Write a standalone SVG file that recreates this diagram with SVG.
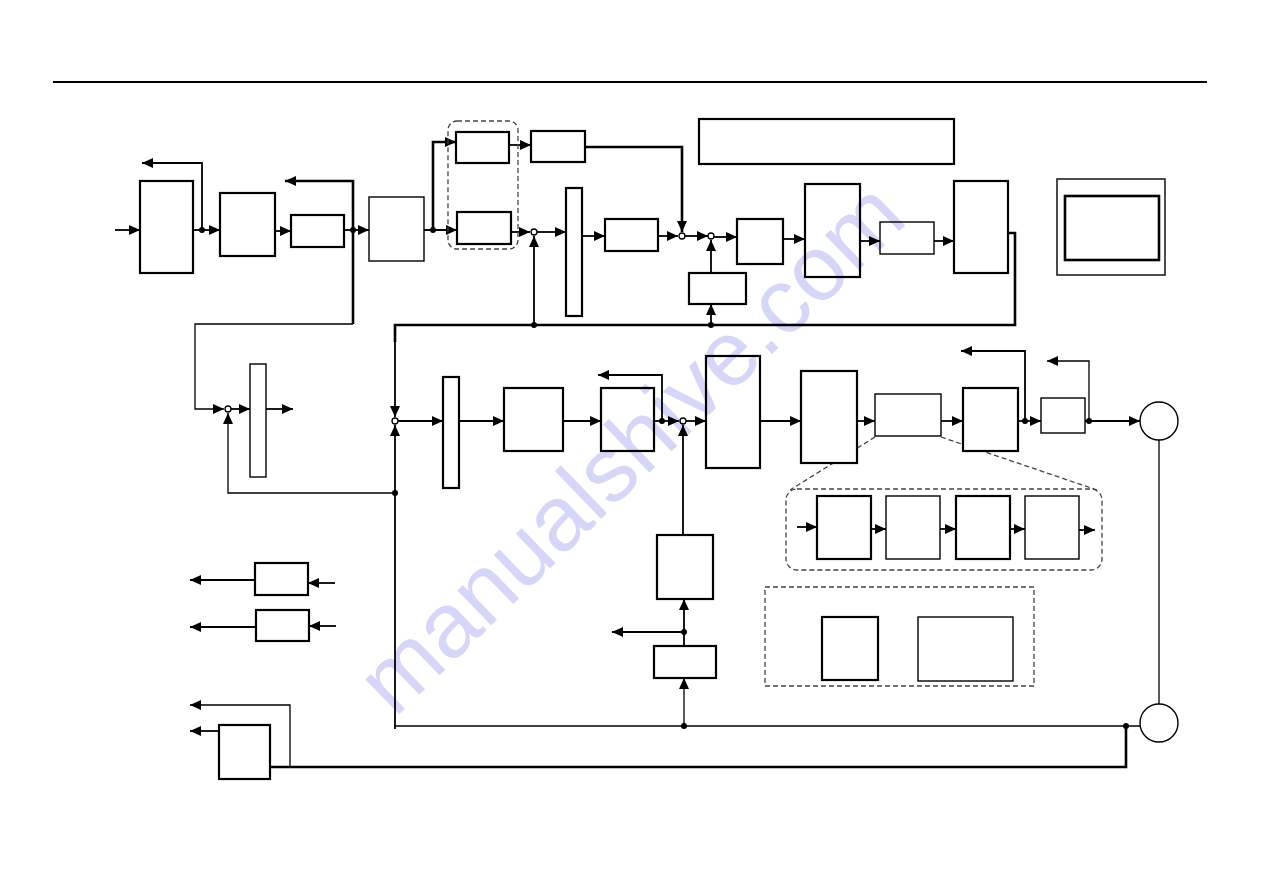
<svg xmlns="http://www.w3.org/2000/svg" width="1263" height="893" viewBox="0 0 1263 893">
<style>
.b{fill:#fff;stroke:#000;stroke-width:2.2}
.t{fill:#fff;stroke:#000;stroke-width:1.4}
.c{fill:none;stroke:#000;stroke-width:1.8}
.k{fill:none;stroke:#000;stroke-width:2.6}
.n{fill:none;stroke:#000;stroke-width:1.3}
.d{fill:none;stroke:#444;stroke-width:1.3;stroke-dasharray:5 3}
.j{fill:#fff;stroke:#000;stroke-width:1.3}
.dot{fill:#000}
.wm{font-family:"Liberation Sans",Arial,sans-serif;font-size:92px;fill:#d6d6f8;mix-blend-mode:multiply}
</style>
<defs>
<marker id="a" viewBox="0 0 11 10" refX="11" refY="5" markerWidth="11" markerHeight="10" markerUnits="userSpaceOnUse" orient="auto">
<path d="M0,0 L11,5 L0,10 z" fill="#000"/>
</marker>
</defs>
<rect width="1263" height="893" fill="#fff"/>
<path d="M53,82 H1207" stroke="#000" stroke-width="2"/>

<g id="connectors">
<path class="d" d="M875,437 L790,490"/>
<path class="d" d="M941,437 L1097,490"/>
<path class="c" d="M115,230 H140" marker-end="url(#a)"/>
<path class="c" d="M192,230 H220" marker-end="url(#a)"/>
<path class="c" d="M202,230 V163 H142" marker-end="url(#a)"/>
<path class="c" d="M275,231 H291" marker-end="url(#a)"/>
<path class="c" d="M344,230 H369" marker-end="url(#a)"/>
<path class="k" d="M353,230 V181 H285" marker-end="url(#a)"/>
<path class="k" d="M353,230 V324"/>
<path class="n" d="M353,324 H195 V409 H224" marker-end="url(#a)"/>
<path class="c" d="M424,230 H457" marker-end="url(#a)"/>
<path class="k" d="M433,230 V142 H456" marker-end="url(#a)"/>
<path class="c" d="M509,145 H531" marker-end="url(#a)"/>
<path class="c" d="M511,232 H530" marker-end="url(#a)"/>
<path class="c" d="M534,325 V236" marker-end="url(#a)"/>
<path class="c" d="M537,232 H566" marker-end="url(#a)"/>
<path class="c" d="M582,236 H605" marker-end="url(#a)"/>
<path class="c" d="M658,236 H678" marker-end="url(#a)"/>
<path class="k" d="M585,147 H682 V232" marker-end="url(#a)"/>
<path class="c" d="M685,236 H708" marker-end="url(#a)"/>
<path class="c" d="M711,273 V240" marker-end="url(#a)"/>
<path class="c" d="M711,325 V304" marker-end="url(#a)"/>
<path class="c" d="M714,237 H737" marker-end="url(#a)"/>
<path class="c" d="M783,239 H805" marker-end="url(#a)"/>
<path class="c" d="M860,241 H880" marker-end="url(#a)"/>
<path class="c" d="M934,241 H954" marker-end="url(#a)"/>
<path class="k" d="M1008,233 H1015 V325 H395 V342"/>
<path class="c" d="M395,340 V417" marker-end="url(#a)"/>
<path class="c" d="M231,409 H250" marker-end="url(#a)"/>
<path class="c" d="M266,409 H293" marker-end="url(#a)"/>
<path class="n" d="M395,493 H228 V413" marker-end="url(#a)"/>
<path class="c" d="M395,729 V425" marker-end="url(#a)"/>
<path class="c" d="M398,421 H443" marker-end="url(#a)"/>
<path class="c" d="M459,421 H504" marker-end="url(#a)"/>
<path class="c" d="M563,421 H601" marker-end="url(#a)"/>
<path class="c" d="M654,421 H679" marker-end="url(#a)"/>
<path class="c" d="M662,421 V375 H598" marker-end="url(#a)"/>
<path class="c" d="M686,421 H706" marker-end="url(#a)"/>
<path class="c" d="M683,535 V425" marker-end="url(#a)"/>
<path class="c" d="M684,646 V599" marker-end="url(#a)"/>
<path class="c" d="M684,632 H612" marker-end="url(#a)"/>
<path class="n" d="M684,726 V678" marker-end="url(#a)"/>
<path class="c" d="M760,421 H801" marker-end="url(#a)"/>
<path class="c" d="M857,421 H875" marker-end="url(#a)"/>
<path class="c" d="M941,421 H963" marker-end="url(#a)"/>
<path class="c" d="M1018,421 H1041" marker-end="url(#a)"/>
<path class="c" d="M1025,421 V351 H961" marker-end="url(#a)"/>
<path class="c" d="M1085,421 H1140" marker-end="url(#a)"/>
<path class="n" d="M1089,421 V361 H1047" marker-end="url(#a)"/>
<path class="n" d="M1159,440 V704"/>
<path class="n" d="M395,726 H1140"/>
<path class="k" d="M1126,726 V767 H270"/>
<path class="n" d="M290,767 V705 H190" marker-end="url(#a)"/>
<path class="c" d="M219,731 H190" marker-end="url(#a)"/>
<path class="c" d="M335,583 H308" marker-end="url(#a)"/>
<path class="c" d="M255,580 H190" marker-end="url(#a)"/>
<path class="c" d="M336,626 H309" marker-end="url(#a)"/>
<path class="c" d="M256,627 H190" marker-end="url(#a)"/>
<path class="c" d="M797,527 H817" marker-end="url(#a)"/>
<path class="c" d="M871,529 H886" marker-end="url(#a)"/>
<path class="c" d="M940,529 H956" marker-end="url(#a)"/>
<path class="c" d="M1010,529 H1025" marker-end="url(#a)"/>
<path class="c" d="M1079,530 H1095" marker-end="url(#a)"/>
<circle class="dot" cx="202" cy="230" r="3"/>
<circle class="dot" cx="353" cy="230" r="3"/>
<circle class="dot" cx="433" cy="230" r="3"/>
<circle class="dot" cx="534" cy="325" r="3"/>
<circle class="dot" cx="711" cy="325" r="3"/>
<circle class="dot" cx="395" cy="493" r="3"/>
<circle class="dot" cx="662" cy="421" r="3"/>
<circle class="dot" cx="684" cy="632" r="3"/>
<circle class="dot" cx="684" cy="726" r="3"/>
<circle class="dot" cx="1025" cy="421" r="3"/>
<circle class="dot" cx="1089" cy="421" r="3"/>
<circle class="dot" cx="1126" cy="726" r="3"/>
<circle class="j" cx="534" cy="232" r="3"/>
<circle class="j" cx="682" cy="236" r="3"/>
<circle class="j" cx="711" cy="236" r="3"/>
<circle class="j" cx="228" cy="409" r="3"/>
<circle class="j" cx="395" cy="421" r="3"/>
<circle class="j" cx="683" cy="421" r="3"/>
</g>

<g id="grp-dash1"><rect class="d" x="448" y="121" width="70" height="128" rx="9"/></g>
<g id="grp-dash2"><rect class="d" x="786" y="489" width="316" height="81" rx="11"/></g>
<g id="grp-dash3"><rect class="d" x="765" y="587" width="269" height="99"/></g>

<g id="nA"><rect class="b" x="140" y="181" width="53" height="92"/></g>
<g id="nB"><rect class="b" x="220" y="193" width="55" height="63"/></g>
<g id="nC"><rect class="b" x="291" y="215" width="53" height="32"/></g>
<g id="nD"><rect class="t" x="369" y="197" width="55" height="64"/></g>
<g id="nE1"><rect class="b" x="456" y="132" width="53" height="31"/></g>
<g id="nE2"><rect class="b" x="457" y="212" width="54" height="32"/></g>
<g id="nF"><rect class="b" x="531" y="131" width="54" height="31"/></g>
<g id="nG"><rect class="b" x="566" y="188" width="16" height="128"/></g>
<g id="nH"><rect class="b" x="605" y="219" width="53" height="32"/></g>
<g id="nI"><rect class="b" x="689" y="273" width="57" height="31"/></g>
<g id="nJ"><rect class="b" x="737" y="219" width="46" height="45"/></g>
<g id="nK"><rect class="b" x="805" y="184" width="55" height="93"/></g>
<g id="nL"><rect class="t" x="880" y="222" width="54" height="32"/></g>
<g id="nM"><rect class="b" x="954" y="181" width="54" height="92"/></g>
<g id="nN"><rect class="b" x="699" y="119" width="255" height="45"/></g>
<g id="nO"><rect class="t" x="1057" y="179" width="108" height="96"/><rect fill="#fff" stroke="#000" stroke-width="2.6" x="1065" y="196" width="94" height="64"/></g>

<g id="nP"><rect class="t" x="250" y="364" width="16" height="113"/></g>
<g id="nQ"><rect class="b" x="443" y="377" width="16" height="111"/></g>
<g id="nR"><rect class="b" x="504" y="388" width="59" height="63"/></g>
<g id="nS"><rect class="b" x="601" y="388" width="53" height="63"/></g>
<g id="nT"><rect class="b" x="706" y="356" width="54" height="112"/></g>
<g id="nU"><rect class="b" x="801" y="371" width="56" height="92"/></g>
<g id="nX"><rect class="t" x="875" y="394" width="66" height="42"/></g>
<g id="nY"><rect class="b" x="963" y="388" width="55" height="63"/></g>
<g id="nZ"><rect class="t" x="1041" y="398" width="44" height="35"/></g>
<g id="nCirc1"><circle class="t" cx="1159" cy="421" r="19"/></g>
<g id="nCirc2"><circle class="t" cx="1159" cy="723" r="19"/></g>
<g id="nV"><rect class="b" x="657" y="535" width="56" height="64"/></g>
<g id="nW"><rect class="b" x="654" y="646" width="62" height="32"/></g>

<g id="nb1"><rect class="b" x="817" y="496" width="54" height="63"/></g>
<g id="nb2"><rect class="t" x="886" y="496" width="54" height="63"/></g>
<g id="nb3"><rect class="b" x="956" y="496" width="54" height="63"/></g>
<g id="nb4"><rect class="t" x="1025" y="496" width="54" height="63"/></g>
<g id="nc1"><rect class="b" x="822" y="617" width="56" height="63"/></g>
<g id="nc2"><rect class="t" x="918" y="617" width="95" height="64"/></g>

<g id="nAA"><rect class="b" x="255" y="563" width="53" height="32"/></g>
<g id="nAB"><rect class="b" x="256" y="610" width="53" height="31"/></g>
<g id="nAC"><rect class="b" x="219" y="725" width="51" height="54"/></g>

<text class="wm" x="652" y="470" text-anchor="middle" transform="rotate(-44 652 470)">manualshive.com</text>
</svg>
